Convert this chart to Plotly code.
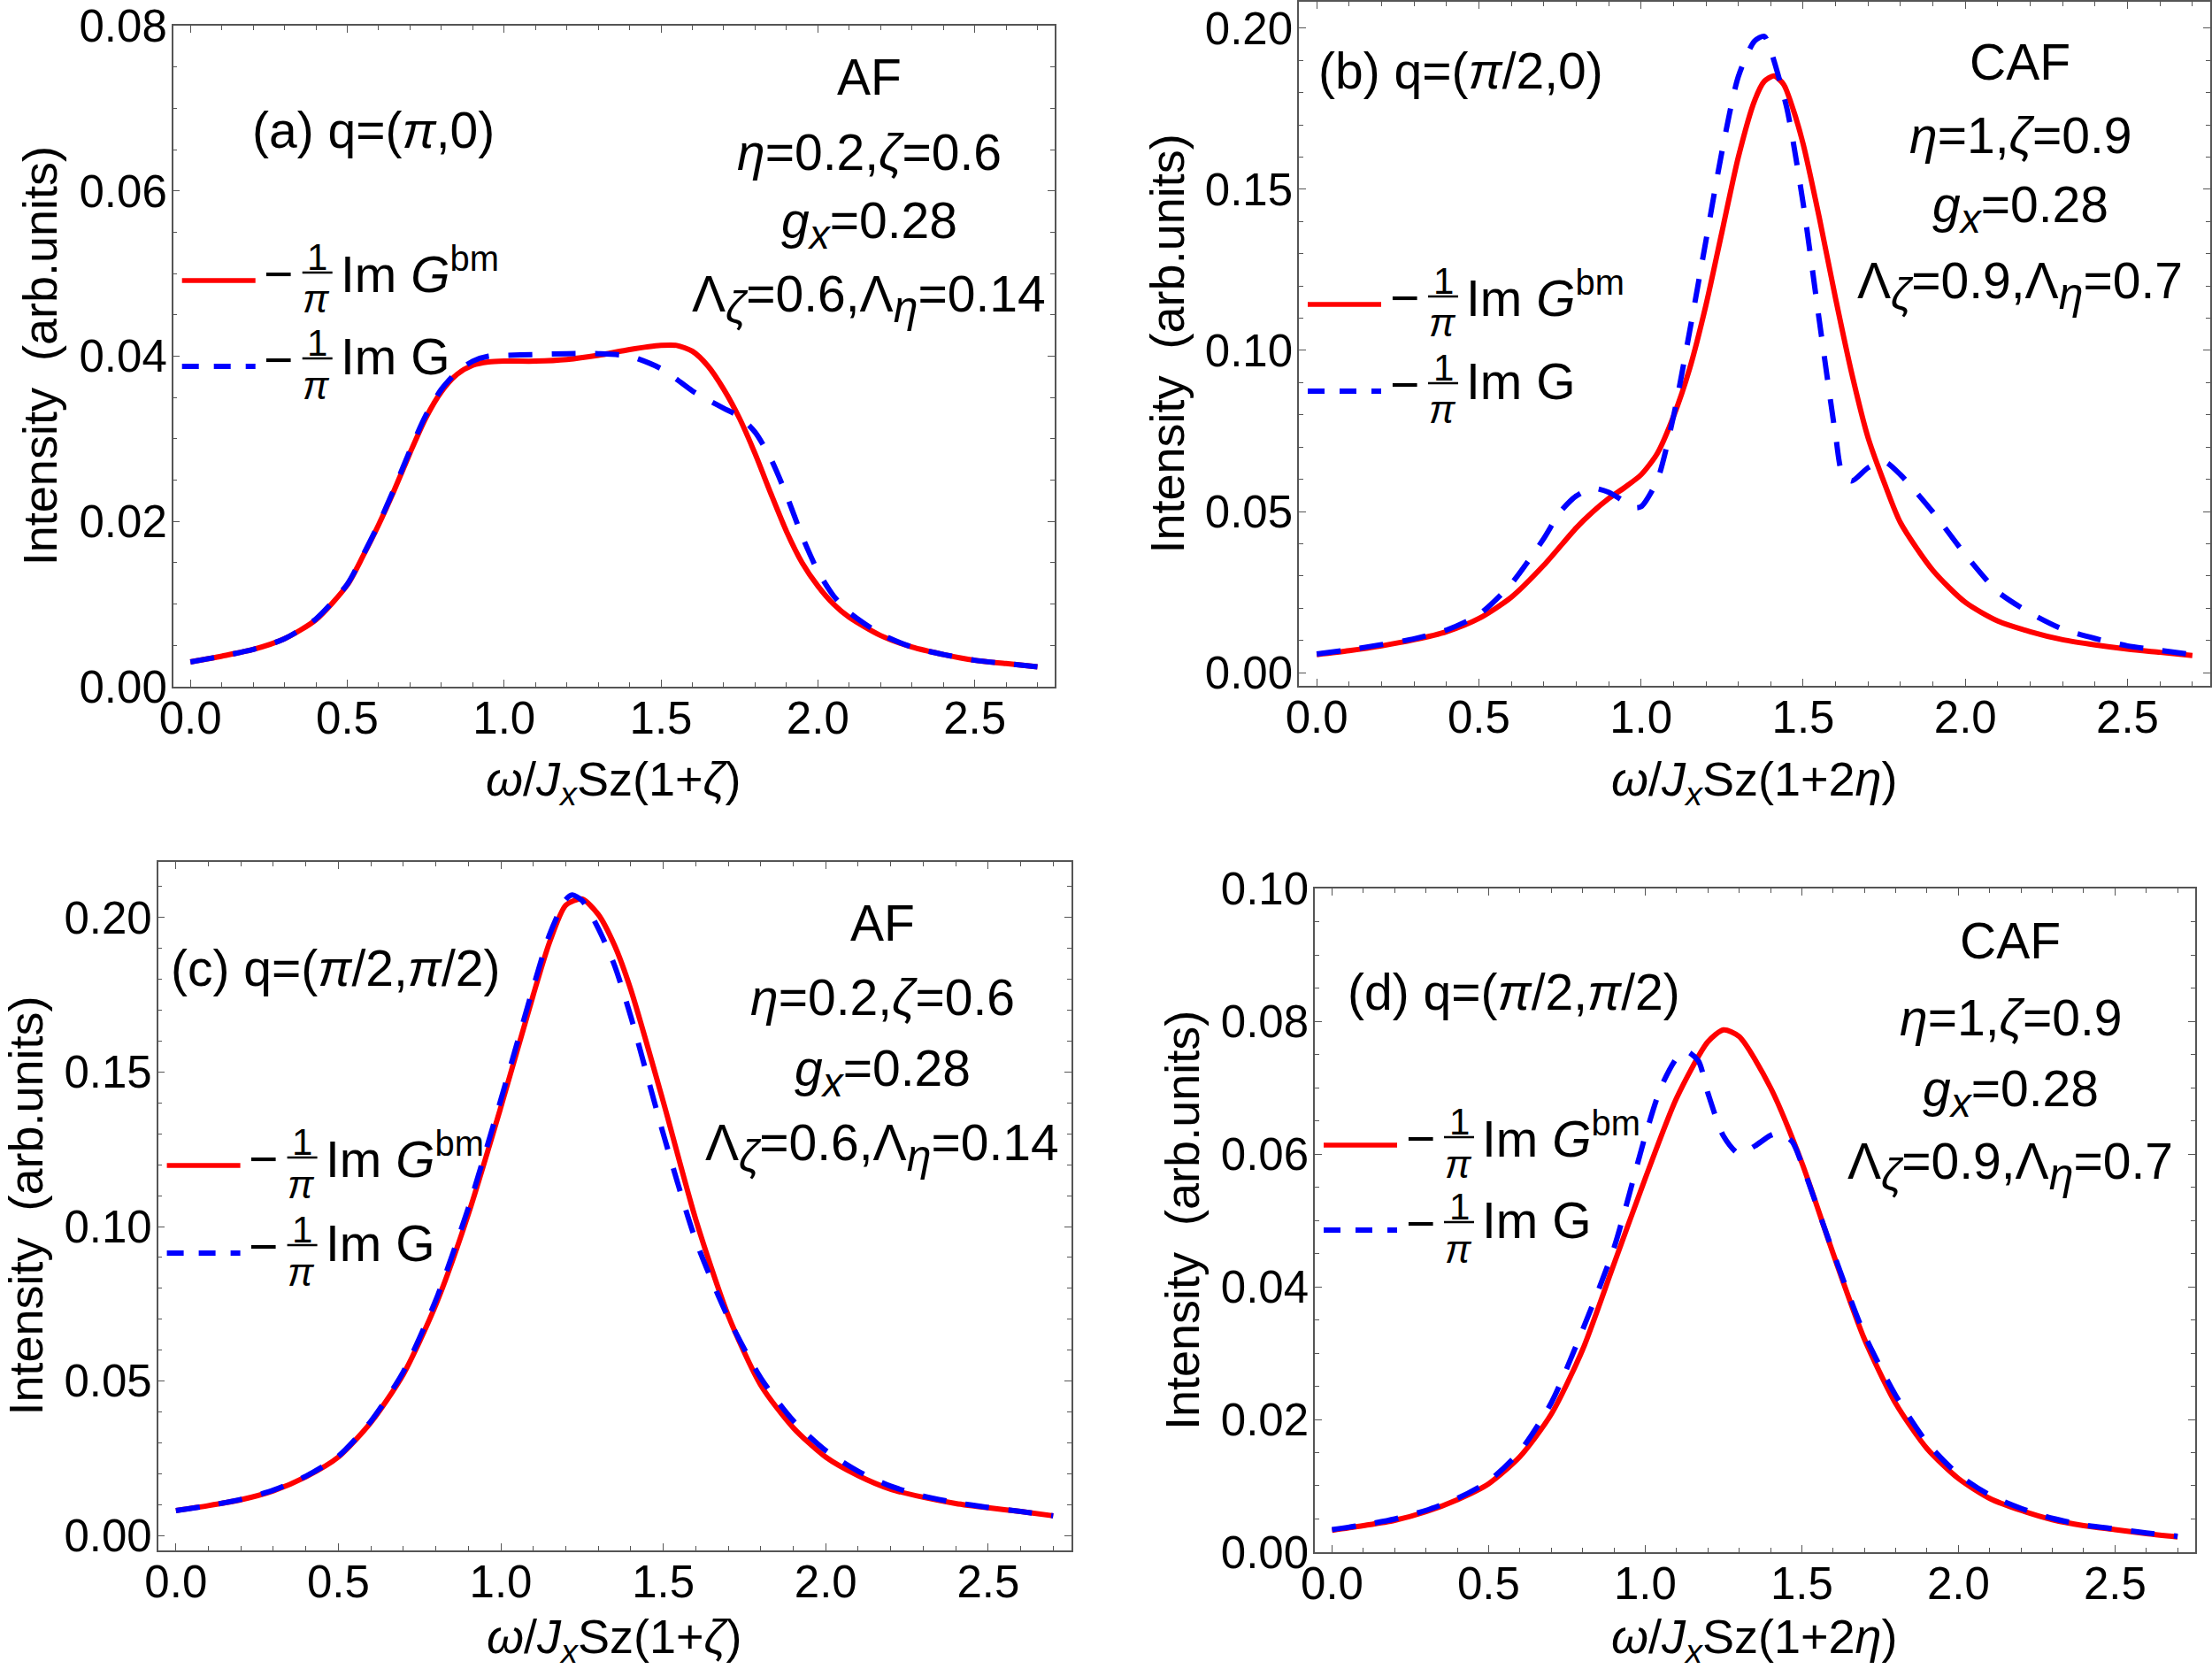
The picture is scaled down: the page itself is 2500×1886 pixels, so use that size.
import plotly.graph_objects as go

W, H = 2500, 1886
FONT = "Liberation Sans, Arial, sans-serif"
RED = "#ff0000"
BLUE = "#0000ff"
FRAME = "#555555"

# ---------------- data ----------------
# panel (a)  AF, q=(pi,0)
w_a = [0, 0.1, 0.2, 0.3, 0.4, 0.5, 0.55, 0.6, 0.65, 0.7, 0.75, 0.8, 0.85, 0.9, 0.95, 1.0,
       1.1, 1.2, 1.3, 1.4, 1.5, 1.55, 1.6, 1.65, 1.7, 1.75, 1.8, 1.85, 1.9, 1.95, 2.0,
       2.05, 2.1, 2.2, 2.3, 2.4, 2.5, 2.6, 2.7]
a_bm = [0.0030, 0.0037, 0.0045, 0.0058, 0.0081, 0.0123, 0.0158, 0.0196, 0.0238, 0.0283,
        0.0325, 0.0357, 0.0378, 0.0389, 0.0393, 0.0394, 0.0394, 0.0396, 0.0401, 0.0408,
        0.0413, 0.0413, 0.0406, 0.0388, 0.0360, 0.0325, 0.0282, 0.0234, 0.0188, 0.0150,
        0.0122, 0.0100, 0.0084, 0.0062, 0.0048, 0.0039, 0.0032, 0.0028, 0.0024]
a_g = [0.0030, 0.0037, 0.0045, 0.0058, 0.0082, 0.0124, 0.0159, 0.0197, 0.0240, 0.0286,
       0.0328, 0.0360, 0.0381, 0.0394, 0.0400, 0.0401, 0.0402, 0.0403, 0.0403, 0.0400,
       0.0385, 0.0372, 0.0358, 0.0347, 0.0337, 0.0327, 0.0308, 0.0276, 0.0232, 0.0182,
       0.0140, 0.0110, 0.0090, 0.0064, 0.0048, 0.0039, 0.0032, 0.0028, 0.0024]

# panel (b)  CAF, q=(pi/2,0)
w_b_bm = [0, 0.1, 0.2, 0.3, 0.4, 0.5, 0.6, 0.7, 0.8, 0.85, 0.9, 0.95, 1.0, 1.05, 1.1, 1.15,
          1.2, 1.25, 1.3, 1.35, 1.38, 1.41, 1.44, 1.47, 1.5, 1.55, 1.6, 1.65, 1.7, 1.75,
          1.8, 1.9, 2.0, 2.1, 2.2, 2.3, 2.4, 2.5, 2.6, 2.7]
b_bm = [0.0056, 0.0068, 0.0083, 0.0102, 0.0127, 0.0168, 0.0234, 0.0333, 0.0449, 0.0498,
        0.0540, 0.0575, 0.0614, 0.0680, 0.0795, 0.0944, 0.1140, 0.1370, 0.1600, 0.1775,
        0.1835, 0.1852, 0.1825, 0.1745, 0.1640, 0.1410, 0.1160, 0.0927, 0.0729, 0.0589,
        0.0465, 0.0317, 0.0218, 0.0160, 0.0127, 0.0102, 0.0086, 0.0073, 0.0063, 0.0053]
w_b_g = [0, 0.1, 0.2, 0.3, 0.4, 0.5, 0.6, 0.7, 0.75, 0.8, 0.85, 0.9, 0.95, 0.98, 1.0, 1.05,
         1.1, 1.15, 1.2, 1.25, 1.3, 1.35, 1.38, 1.4, 1.45, 1.5, 1.55, 1.6, 1.62, 1.65, 1.7,
         1.75, 1.8, 1.9, 2.0, 2.1, 2.2, 2.3, 2.4, 2.5, 2.6, 2.7]
b_g = [0.0058, 0.0071, 0.0087, 0.0105, 0.0132, 0.0180, 0.0276, 0.0416, 0.0498, 0.0548,
       0.0572, 0.0560, 0.0530, 0.0512, 0.0515, 0.0597, 0.0795, 0.1060, 0.1340, 0.1620,
       0.1850, 0.1960, 0.1975, 0.1930, 0.1750, 0.1455, 0.1090, 0.0735, 0.0620, 0.0595,
       0.0636, 0.0655, 0.0614, 0.0498, 0.0366, 0.0251, 0.0185, 0.0135, 0.0106, 0.0083,
       0.0069, 0.0056]

# panel (c)  AF, q=(pi/2,pi/2)
w_c_bm = [0, 0.1, 0.2, 0.3, 0.4, 0.5, 0.6, 0.7, 0.8, 0.9, 1.0, 1.1, 1.15, 1.2, 1.25, 1.3,
          1.35, 1.4, 1.5, 1.6, 1.7, 1.8, 1.9, 2.0, 2.1, 2.2, 2.3, 2.4, 2.5, 2.6, 2.7]
c_bm = [0.0081, 0.0097, 0.0116, 0.0145, 0.0190, 0.0254, 0.0366, 0.0522, 0.0747, 0.1040,
        0.1386, 0.1750, 0.1920, 0.2040, 0.2060, 0.2010, 0.1910, 0.1767, 0.1404, 0.1023,
        0.0712, 0.0487, 0.0349, 0.0254, 0.0194, 0.0150, 0.0124, 0.0104, 0.0090, 0.0078,
        0.0064]
w_c_g = [0, 0.1, 0.2, 0.3, 0.4, 0.5, 0.6, 0.7, 0.8, 0.9, 1.0, 1.1, 1.15, 1.2, 1.22, 1.25,
         1.3, 1.35, 1.4, 1.5, 1.6, 1.7, 1.8, 1.9, 2.0, 2.1, 2.2, 2.3, 2.4, 2.5, 2.6, 2.7]
c_g = [0.0081, 0.0097, 0.0117, 0.0147, 0.0192, 0.0257, 0.0370, 0.0530, 0.0762, 0.1060,
       0.1410, 0.1775, 0.1945, 0.2058, 0.2073, 0.2055, 0.1965, 0.1845, 0.1680, 0.1300,
       0.0955, 0.0705, 0.0510, 0.0372, 0.0275, 0.0208, 0.0160, 0.0128, 0.0107, 0.0091,
       0.0078, 0.0064]

# panel (d)  CAF, q=(pi/2,pi/2)
w_d_bm = [0, 0.1, 0.2, 0.3, 0.4, 0.5, 0.6, 0.7, 0.8, 0.9, 1.0, 1.1, 1.2, 1.25, 1.3, 1.4,
          1.5, 1.6, 1.7, 1.8, 1.9, 2.0, 2.1, 2.2, 2.3, 2.4, 2.5, 2.6, 2.7]
d_bm = [0.0033, 0.0040, 0.0048, 0.0061, 0.0079, 0.0103, 0.0144, 0.0208, 0.0305, 0.0434,
        0.0563, 0.0684, 0.0769, 0.0787, 0.0777, 0.0700, 0.0587, 0.0450, 0.0321, 0.0224,
        0.0156, 0.0111, 0.0081, 0.0063, 0.0049, 0.0040, 0.0034, 0.0028, 0.0023]
w_d_g = [0, 0.1, 0.2, 0.3, 0.4, 0.5, 0.6, 0.7, 0.8, 0.9, 1.0, 1.05, 1.1, 1.13, 1.17, 1.2,
         1.25, 1.3, 1.35, 1.4, 1.43, 1.47, 1.5, 1.6, 1.7, 1.8, 1.9, 2.0, 2.1, 2.2, 2.3,
         2.4, 2.5, 2.6, 2.7]
d_g = [0.0034, 0.0041, 0.0050, 0.0063, 0.0081, 0.0107, 0.0152, 0.0225, 0.0335, 0.0458,
       0.0627, 0.0700, 0.0744, 0.0755, 0.0740, 0.0692, 0.0627, 0.0600, 0.0612, 0.0628,
       0.0632, 0.0618, 0.0585, 0.0452, 0.0328, 0.0236, 0.0165, 0.0117, 0.0086, 0.0066,
       0.0051, 0.0041, 0.0035, 0.0029, 0.0024]

x_ticks = [0.0, 0.5, 1.0, 1.5, 2.0, 2.5]
x_range = [-0.055, 2.755]

title_zeta = "<i>ω</i>/<i>J</i><sub><i>x</i></sub>Sz(1+<i>ζ</i>)"
title_eta = "<i>ω</i>/<i>J</i><sub><i>x</i></sub>Sz(1+2<i>η</i>)"
y_title = "Intensity\u00a0\u00a0(arb.units)"
leg_bm = "Im <i>G</i><sup>bm</sup>"
leg_g = "Im G"

SUBX = "<sub><span style='font-size:46px'><i>{}</i></span></sub>"
SUBG = "<sub><span style='font-size:50px'><i>{}</i></span></sub>"
AF_text = ["AF", "<i>η</i>=0.2,<i>ζ</i>=0.6",
           "<i>g</i>" + SUBX.format("x") + "=0.28",
           "Λ" + SUBG.format("ζ") + "=0.6,Λ" + SUBG.format("η") + "=0.14"]
CAF_text = ["CAF", "<i>η</i>=1,<i>ζ</i>=0.9",
            "<i>g</i>" + SUBX.format("x") + "=0.28",
            "Λ" + SUBG.format("ζ") + "=0.9,Λ" + SUBG.format("η") + "=0.7"]

panels = [
    dict(L=195.7, R=1192, T=29, B=776, yr=[-1e-6, 0.08 + 1e-6], ydt=0.02, ymin=0.005,
         xs=(w_a, w_a), ys=(a_bm, a_g), xt=title_zeta, xt_y=884,
         lab="(a) q=(<i>π</i>,0)", lab_xy=(284, 147),
         info=AF_text, info_x=982, info_y=[87, 172, 254, 338],
         leg_y=(317, 414)),
    dict(L=1468, R=2498, T=2, B=775, yr=[-0.0041, 0.2082], ydt=0.05, ymin=0.01,
         xs=(w_b_bm, w_b_g), ys=(b_bm, b_g), xt=title_eta, xt_y=884,
         lab="(b) q=(<i>π</i>/2,0)", lab_xy=(1489, 80),
         info=CAF_text, info_x=2283, info_y=[70, 153, 236, 322],
         leg_y=(344, 442)),
    dict(L=178.6, R=1210.5, T=974, B=1752, yr=[-0.0048, 0.218], ydt=0.05, ymin=0.01,
         xs=(w_c_bm, w_c_g), ys=(c_bm, c_g), xt=title_zeta, xt_y=1853,
         lab="(c) q=(<i>π</i>/2,<i>π</i>/2)", lab_xy=(192, 1094),
         info=AF_text, info_x=997, info_y=[1043, 1127, 1212, 1296],
         leg_y=(1317, 1416)),
    dict(L=1486, R=2480.6, T=1004, B=1754, yr=[-1e-6, 0.1 + 1e-6], ydt=0.02, ymin=0.005,
         xs=(w_d_bm, w_d_g), ys=(d_bm, d_g), xt=title_eta, xt_y=1853,
         lab="(d) q=(<i>π</i>/2,<i>π</i>/2)", lab_xy=(1522, 1121),
         info=CAF_text, info_x=2272, info_y=[1063, 1150, 1235, 1317],
         leg_y=(1294, 1390)),
]


def PX(x):
    return x / W


def PY(y):
    return 1 - y / H


fig = go.Figure()
annotations = []
shapes = []


def ann(text, x, y, size, xanchor="center", yanchor="middle", angle=0):
    annotations.append(dict(text=text, x=PX(x), y=PY(y), xref="paper", yref="paper",
                            showarrow=False, xanchor=xanchor, yanchor=yanchor,
                            textangle=angle, borderpad=0,
                            font=dict(family=FONT, size=size, color="black")))


def legend_entry(L, y, color, dash, width, label):
    shapes.append(dict(type="line", xref="paper", yref="paper",
                       x0=PX(L + 10), x1=PX(L + 93), y0=PY(y), y1=PY(y),
                       line=dict(color=color, width=width, dash=dash)))
    ann("\u2212", L + 119, y - 8, 57)
    ann("1", L + 163, y - 27, 42)
    shapes.append(dict(type="line", xref="paper", yref="paper",
                       x0=PX(L + 146), x1=PX(L + 180), y0=PY(y - 9), y1=PY(y - 9),
                       line=dict(color="black", width=2.4)))
    ann("<i>π</i>", L + 162, y + 21, 44)
    ann(label, L + 188, y - 11, 57, xanchor="left")


axis_common = dict(showline=True, linecolor=FRAME, linewidth=1.5, mirror="ticks",
                   ticks="inside", ticklen=8, tickwidth=1.3, tickcolor=FRAME,
                   showgrid=False, zeroline=False, automargin=False,
                   tickfont=dict(family=FONT, size=51, color="black"))

for i, p in enumerate(panels, start=1):
    xa = "x" if i == 1 else f"x{i}"
    ya = "y" if i == 1 else f"y{i}"
    for xs, ys, color, dash, width in ((p["xs"][0], p["ys"][0], RED, "solid", 6),
                                       (p["xs"][1], p["ys"][1], BLUE, "27px,22px", 6)):
        fig.add_trace(go.Scatter(x=xs, y=ys, mode="lines", xaxis=xa, yaxis=ya,
                                 line=dict(color=color, width=width, dash=dash,
                                           shape="spline", smoothing=0.7),
                                 showlegend=False, hoverinfo="skip"))
    xkey = "xaxis" if i == 1 else f"xaxis{i}"
    ykey = "yaxis" if i == 1 else f"yaxis{i}"
    fig.layout[xkey] = dict(axis_common, domain=[PX(p["L"]), PX(p["R"])], anchor=ya,
                            range=x_range, tickmode="array", tickvals=x_ticks,
                            ticktext=[f"{v:.1f}" for v in x_ticks], ticklabelstandoff=-10,
                            minor=dict(ticks="inside", ticklen=5, tickwidth=1.2,
                                       tickcolor=FRAME, dtick=0.1, tick0=0, showgrid=False))
    fig.layout[ykey] = dict(axis_common, domain=[PY(p["B"]), PY(p["T"])], anchor=xa,
                            range=p["yr"], tick0=0, dtick=p["ydt"], tickformat=".2f",
                            ticklabelstandoff=-5,
                            minor=dict(ticks="inside", ticklen=5, tickwidth=1.2,
                                       tickcolor=FRAME, dtick=p["ymin"], tick0=0,
                                       showgrid=False))
    # axis titles
    ann(p["xt"], (p["L"] + p["R"]) / 2, p["xt_y"], 54)
    ann(y_title, p["L"] - 150, (p["T"] + p["B"]) / 2, 54, angle=-90)
    # panel label and parameters
    ann(p["lab"], p["lab_xy"][0], p["lab_xy"][1], 57, xanchor="left")
    for t, yy in zip(p["info"], p["info_y"]):
        ann(t, p["info_x"], yy, 57)
    # legend
    legend_entry(p["L"], p["leg_y"][0], RED, "solid", 5.5, leg_bm)
    legend_entry(p["L"], p["leg_y"][1], BLUE, "19px,17px", 6, leg_g)

fig.update_layout(width=W, height=H, margin=dict(l=0, r=0, t=0, b=0, autoexpand=False),
                  paper_bgcolor="white", plot_bgcolor="white",
                  annotations=annotations, shapes=shapes, showlegend=False,
                  font=dict(family=FONT, size=50, color="black"))

fig.write_html("out.html")
